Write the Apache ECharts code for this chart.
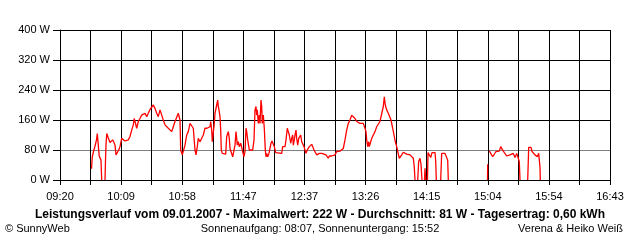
<!DOCTYPE html>
<html><head><meta charset="utf-8">
<script src="https://cdn.jsdelivr.net/npm/echarts@6/dist/echarts.min.js"></script>
<style>html,body{margin:0;padding:0;background:#fff}#c{width:640px;height:240px}</style>
</head><body><div id="c"></div>
<script>
// Measurement times (clock) and power values in W; null marks a gap in the record
const times = [
'09:45:22','09:46:01','09:46:59','09:48:11','09:49:24','09:50:03','09:50:51','09:51:34','09:52:28','09:53:01','09:53:35','09:55:00',
'09:56:15','09:56:39','09:57:08','09:57:42','09:58:54','10:00:16','10:01:38','10:02:27','10:03:30','10:04:18','10:05:06','10:06:09',
'10:07:17','10:08:20','10:09:42','10:10:59','10:12:21','10:13:43','10:15:01','10:16:23','10:17:45','10:19:02','10:19:46','10:20:25',
'10:21:47','10:23:04','10:24:26','10:25:48','10:27:05','10:28:28','10:29:50','10:31:07','10:32:29','10:33:52','10:35:09','10:36:31',
'10:37:53','10:39:11','10:40:33','10:41:55','10:43:12','10:44:34','10:45:56','10:47:14','10:48:36','10:49:58','10:51:15','10:52:38',
'10:54:00','10:55:17','10:56:39','10:57:13','10:58:31','10:59:19','11:00:41','11:02:03','11:03:20','11:04:43','11:06:05','11:07:22',
'11:08:44','11:09:32','11:10:35','11:11:23','11:12:46','11:14:08','11:15:25','11:16:47','11:18:24','11:19:27','11:20:49','11:21:23',
'11:22:11','11:22:40','11:23:29','11:24:17','11:24:51','11:26:13','11:27:01','11:27:30','11:28:04','11:28:52','11:29:26','11:29:55',
'11:30:43','11:33:28','11:34:16','11:35:34','11:36:22','11:36:56','11:38:18','11:39:06','11:40:23','11:40:57','11:41:46','11:42:19',
'11:42:49','11:43:37','11:44:25','11:45:33','11:46:21','11:46:50','11:47:38','11:48:12','11:49:01','11:49:49','11:50:23','11:51:11',
'11:51:59','11:52:28','11:55:13','11:56:16','11:57:04','11:57:52','11:58:26','11:58:55','11:59:43','12:00:32','12:01:05','12:01:54',
'12:02:28','12:02:56','12:03:45','12:04:33','12:05:22','12:05:55','12:06:29','12:07:17','12:08:20','12:09:08','12:09:57','12:10:45',
'12:11:48','12:12:37','12:13:44','12:18:34','12:19:22','12:21:14','12:22:02','12:23:05','12:23:53','12:24:41','12:25:15','12:25:49',
'12:26:37','12:27:26','12:27:55','12:28:43','12:29:17','12:30:05','12:30:39','12:31:28','12:32:16','12:33:04','12:33:52','12:34:41',
'12:35:29','12:36:32','12:37:20','12:38:08','12:39:11','12:40:48','12:41:56','12:42:44','12:43:32','12:44:35','12:45:23','12:46:46',
'12:48:03','12:48:51','12:49:59','12:50:47','12:51:35','12:52:38','12:53:26','12:54:15','12:55:18','12:56:06','12:56:55','12:58:02',
'12:58:50','13:00:08','13:01:30','13:02:52','13:04:10','13:05:32','13:06:54','13:08:11','13:09:33','13:10:55','13:12:13','13:13:35',
'13:14:57','13:16:14','13:17:37','13:18:59','13:20:16','13:21:38','13:23:00','13:24:17','13:25:40','13:26:28','13:27:02','13:27:50',
'13:28:38','13:29:08','13:30:15','13:31:04','13:32:21','13:33:43','13:35:05','13:36:22','13:37:44','13:39:07','13:40:24','13:41:13',
'13:42:01','13:43:08','13:44:26','13:45:48','13:46:36','13:47:58','13:49:01','13:50:04','13:51:12','13:52:29','13:53:17','13:54:25',
'13:55:13','13:56:31','13:57:53','13:59:15','14:01:55','14:03:17','14:04:34','14:05:22','14:05:56','14:07:00',
'14:08:07','14:08:55','14:09:58','14:10:46','14:11:34','14:12:30',
'14:13:35','14:13:59','14:14:33','14:15:00',
'14:16:00','14:16:25','14:17:27','14:18:35','14:19:38','14:22:03','14:22:37','14:23:05','14:25:00',
'14:26:38','14:27:26','14:28:44','14:30:06','14:31:28','14:32:16','14:32:46','14:50:00',
'15:04:20','15:04:29','15:05:00',
'15:05:47','15:06:55','15:08:31','15:09:49','15:11:11','15:12:13','15:13:50','15:14:58','15:15:46','15:17:04','15:18:26','15:19:47',
'15:21:05','15:22:27','15:23:49','15:25:07','15:26:29','15:27:51','15:29:08','15:29:56','15:30:31','15:33:00',
'15:36:43','15:37:31','15:39:22','15:40:10','15:41:13','15:42:35','15:43:23','15:44:26','15:45:34','15:46:03','15:46:37','15:46:52'
];
const watts = [
30,62,76,90,107,124,93,64,64,53,0,null,
0,53,100,124,112,100,104,107,100,93,67,69,
80,89,111,107,104,100,107,116,133,147,164,156,
138,156,164,173,169,178,169,178,188,188,200,191,
178,169,187,173,160,147,147,138,133,129,142,156,
160,178,160,80,67,71,93,120,129,151,151,138,
80,67,89,111,102,107,120,138,138,133,142,156,
133,102,98,151,178,200,213,196,187,169,133,80,
71,69,116,129,111,84,80,62,60,93,129,129,
93,102,89,98,93,80,80,62,76,138,129,107,
102,80,80,107,187,196,173,187,151,173,151,213,
196,151,173,138,80,62,71,62,71,76,98,104,
107,89,73,71,89,89,107,138,129,120,124,98,
111,120,93,107,120,133,111,93,111,107,120,102,
98,89,84,71,80,89,93,95,89,80,76,67,
64,71,67,71,67,69,64,67,62,58,64,60,
64,62,67,76,71,77,80,84,107,133,151,160,
173,169,164,156,160,151,147,151,138,129,107,89,
102,89,102,111,120,129,142,147,156,160,196,222,
200,187,178,182,160,138,120,102,89,84,58,58,
67,74,77,69,67,64,58,34,0,null,
0,50,58,42,0,null,
0,31,0,null,
0,73,69,60,73,73,50,0,null,
0,71,73,71,67,53,0,null,
0,42,null,
78,71,62,67,76,76,77,89,84,77,76,64,
69,67,62,71,60,71,58,49,0,null,
0,87,87,76,73,67,71,62,71,67,34,0
];
const timeLabels = ['09:20','10:09','10:58','11:47','12:37','13:26','14:15','15:04','15:54','16:43'];
const axisStart = '09:20', axisEnd = '16:43';
const yMax = 400, yStep = 80;
const titleText = 'Leistungsverlauf vom 09.01.2007 - Maximalwert: 222 W - Durchschnitt: 81 W - Tagesertrag: 0,60 kWh';
const footerLeft = '© SunnyWeb';
const footerMid = 'Sonnenaufgang: 08:07, Sonnenuntergang: 15:52';
const footerRight = 'Verena & Heiko Weiß';

function toMin(s){const p=s.split(':').map(Number);return p[0]*60+p[1]+(p[2]||0)/60;}
const t0 = toMin(axisStart), span = toMin(axisEnd) - t0;
const step = span / ((timeLabels.length - 1) * 2);
const data = times.map((t,i)=>[toMin(t)-t0, watts[i]===null?'-':watts[i]]);
const FONT = '"Liberation Sans", Arial, sans-serif';

const chart = echarts.init(document.getElementById('c'), null, {renderer:'canvas'});
chart.setOption({
  animation:false,
  backgroundColor:'#fff',
  grid:{left:60,right:30,top:30,bottom:60,containLabel:false},
  title:[
    {text:titleText,left:320,top:209,textAlign:'center',padding:0,
     textStyle:{fontSize:12,fontWeight:'bold',color:'#000',fontFamily:FONT}},
    {text:footerLeft,left:5,top:223,padding:0,textStyle:{fontSize:11,fontWeight:'normal',color:'#000',fontFamily:FONT}},
    {text:footerMid,left:320,top:223,textAlign:'center',padding:0,textStyle:{fontSize:11,fontWeight:'normal',color:'#000',fontFamily:FONT}},
    {text:footerRight,right:17,top:223,padding:0,textStyle:{fontSize:11,fontWeight:'normal',color:'#000',fontFamily:FONT}}
  ],
  xAxis:{
    type:'value',min:0,max:span,interval:step,
    axisLine:{show:true,onZero:false,lineStyle:{color:'#000',width:1}},
    axisTick:{show:true,length:5,lineStyle:{color:'#000',width:1}},
    axisLabel:{color:'#000',fontSize:11,fontFamily:FONT,margin:11,showMinLabel:true,showMaxLabel:true,
      formatter:function(v){const k=Math.round(v/step);return k%2===0?timeLabels[k/2]:'';}},
    splitLine:{show:true,lineStyle:{color:'#000',width:1}}
  },
  yAxis:{
    type:'value',min:0,max:yMax,interval:yStep,
    axisLine:{show:true,lineStyle:{color:'#000',width:1}},
    axisTick:{show:true,length:7,lineStyle:{color:'#000',width:1}},
    axisLabel:{color:'#000',fontSize:11,fontFamily:FONT,margin:10,formatter:'{value} W'},
    splitLine:{show:true,lineStyle:{color:['#000','#808080','#000','#000','#000','#000'],width:1}}
  },
  series:[{
    type:'line',data:data,showSymbol:false,connectNulls:false,
    lineStyle:{color:'#ff0000',width:1.3},itemStyle:{color:'#ff0000'}
  }]
});
</script></body></html>
